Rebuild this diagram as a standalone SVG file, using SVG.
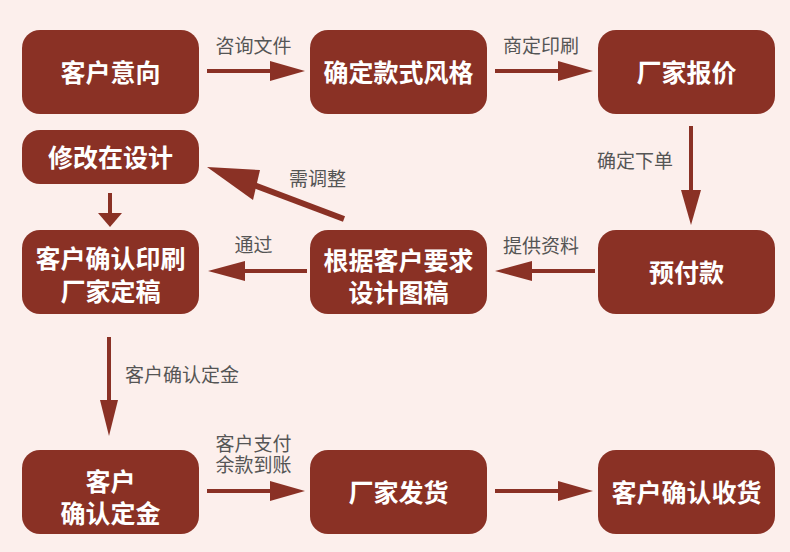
<svg xmlns="http://www.w3.org/2000/svg" width="790" height="552" viewBox="0 0 790 552">
<defs>
<style>
.node rect{fill:#8a3125;}
.node text{fill:#ffffff;font-family:"Liberation Sans","Noto Sans CJK SC",sans-serif;font-weight:700;font-size:25px;text-anchor:middle;}
.lbl{fill:#555555;font-family:"Liberation Sans","Noto Sans CJK SC",sans-serif;font-size:19px;}
.c{text-anchor:middle;}
.ln{stroke:#8a3125;stroke-width:4;fill:none;}
.hd{fill:#8a3125;}
</style>
</defs>
<rect x="0" y="0" width="790" height="552" fill="#fcefec"/>
<g id="connectors">
<line class="ln" x1="207" y1="71" x2="272" y2="71"/><polygon class="hd" points="270,61 305,71 270,81"/>
<line class="ln" x1="495" y1="71" x2="560" y2="71"/><polygon class="hd" points="558,61 593,71 558,81"/>
<line class="ln" x1="691" y1="126" x2="691" y2="192"/><polygon class="hd" points="681,190 701,190 691,225"/>
<line class="ln" x1="595" y1="271" x2="530" y2="271"/><polygon class="hd" points="532,261 532,281 495,271"/>
<line class="ln" x1="307" y1="271" x2="243" y2="271"/><polygon class="hd" points="245,261 245,281 208,271"/>
<line class="ln" x1="110" y1="193" x2="110" y2="215"/><polygon class="hd" points="98,213 122,213 110,227"/>
<line class="ln" x1="109" y1="337" x2="109" y2="402"/><polygon class="hd" points="100,400 118,400 109,436"/>
<line class="ln" x1="207" y1="491" x2="272" y2="491"/><polygon class="hd" points="270,481 305,491 270,501"/>
<line class="ln" x1="495" y1="491" x2="560" y2="491"/><polygon class="hd" points="558,481 593,491 558,501"/>
<line class="ln" style="stroke-width:6" x1="344" y1="219" x2="254" y2="185"/><polygon class="hd" points="260,170 253,200 207,167"/>
</g>
<text class="lbl c" x="253.5" y="52.5">咨询文件</text>
<text class="lbl c" x="541" y="52.5">商定印刷</text>
<text class="lbl c" x="635" y="167.5">确定下单</text>
<text class="lbl c" x="317.5" y="185.5">需调整</text>
<text class="lbl c" x="541" y="252.5">提供资料</text>
<text class="lbl c" x="253.5" y="252">通过</text>
<text class="lbl" x="125" y="382">客户确认定金</text>
<text class="lbl c" x="253.5" y="450.5"><tspan x="253.5">客户支付</tspan><tspan x="253.5" dy="21.5">余款到账</tspan></text>
<g id="n1" class="node"><rect x="22" y="30" width="177" height="84" rx="18"/><text x="110.5" y="81.5">客户意向</text></g>
<g id="n2" class="node"><rect x="310" y="30" width="177" height="84" rx="18"/><text x="398.5" y="81.5">确定款式风格</text></g>
<g id="n3" class="node"><rect x="598" y="30" width="177" height="84" rx="18"/><text x="686.5" y="81.5">厂家报价</text></g>
<g id="n4" class="node"><rect x="22" y="130" width="177" height="54" rx="18"/><text x="110.5" y="166.5">修改在设计</text></g>
<g id="n5" class="node"><rect x="22" y="230" width="177" height="84" rx="18"/><text x="110.5" y="268"><tspan x="110.5">客户确认印刷</tspan><tspan x="110.5" dy="32.5">厂家定稿</tspan></text></g>
<g id="n6" class="node"><rect x="310" y="230" width="177" height="84" rx="18"/><text x="398.5" y="269.5"><tspan x="398.5">根据客户要求</tspan><tspan x="398.5" dy="32">设计图稿</tspan></text></g>
<g id="n7" class="node"><rect x="598" y="230" width="177" height="84" rx="18"/><text x="686.5" y="281.5">预付款</text></g>
<g id="n8" class="node"><rect x="22" y="450" width="177" height="84" rx="18"/><text x="110.5" y="490.5"><tspan x="110.5">客户</tspan><tspan x="110.5" dy="32">确认定金</tspan></text></g>
<g id="n9" class="node"><rect x="310" y="450" width="177" height="84" rx="18"/><text x="398.5" y="501.5">厂家发货</text></g>
<g id="n10" class="node"><rect x="598" y="450" width="177" height="84" rx="18"/><text x="686.5" y="501.5">客户确认收货</text></g>
</svg>
